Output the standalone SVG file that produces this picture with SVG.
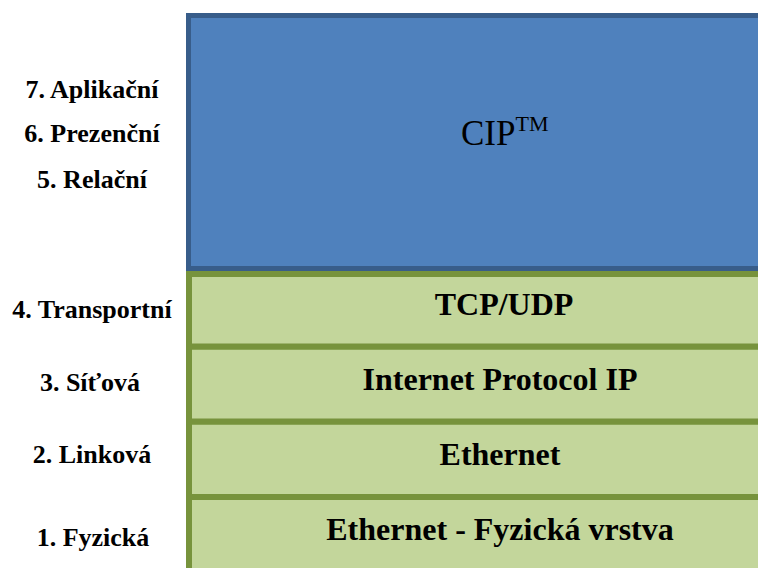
<svg xmlns="http://www.w3.org/2000/svg" width="758" height="568" viewBox="0 0 758 568">
<style>
.blue{fill:#4f81bd;stroke:#385d8a;stroke-width:5}
.green{fill:#c3d69b;stroke:#77933c;stroke-width:6}
text{font-family:'Liberation Serif','Tinos','DejaVu Serif',serif;fill:#000}
.lbl{font-weight:bold;font-size:32px;text-anchor:middle}
.side{font-weight:bold;font-size:26px;text-anchor:middle}
.cip{font-size:35px}
</style>
<rect width="758" height="568" fill="#ffffff"/>
<g id="layer-phys"><rect class="green" x="189" y="497" width="620" height="90"/><text class="lbl" x="500" y="540">Ethernet - Fyzická vrstva</text></g>
<g id="layer-eth"><rect class="green" x="189" y="421.5" width="620" height="75.5"/><text class="lbl" x="500" y="465">Ethernet</text></g>
<g id="layer-ip"><rect class="green" x="189" y="346.5" width="620" height="75"/><text class="lbl" x="500" y="390">Internet Protocol IP</text></g>
<g id="layer-tcp"><rect class="green" x="189" y="274" width="620" height="72.5"/><text class="lbl" x="504" y="315">TCP/UDP</text></g>
<g id="layer-cip"><rect class="blue" x="188.5" y="15.5" width="620" height="253"/><text class="cip" x="461" y="145">CIP<tspan font-size="22" dy="-14">TM</tspan></text></g>
<g id="osi-labels">
<text class="side" x="92" y="98">7. Aplikační</text>
<text class="side" x="92" y="142">6. Prezenční</text>
<text class="side" x="92" y="188">5. Relační</text>
<text class="side" x="92" y="318">4. Transportní</text>
<text class="side" x="90" y="391">3. Síťová</text>
<text class="side" x="92" y="463">2. Linková</text>
<text class="side" x="93" y="546">1. Fyzická</text>
</g>
<g id="connectors"></g>
</svg>
